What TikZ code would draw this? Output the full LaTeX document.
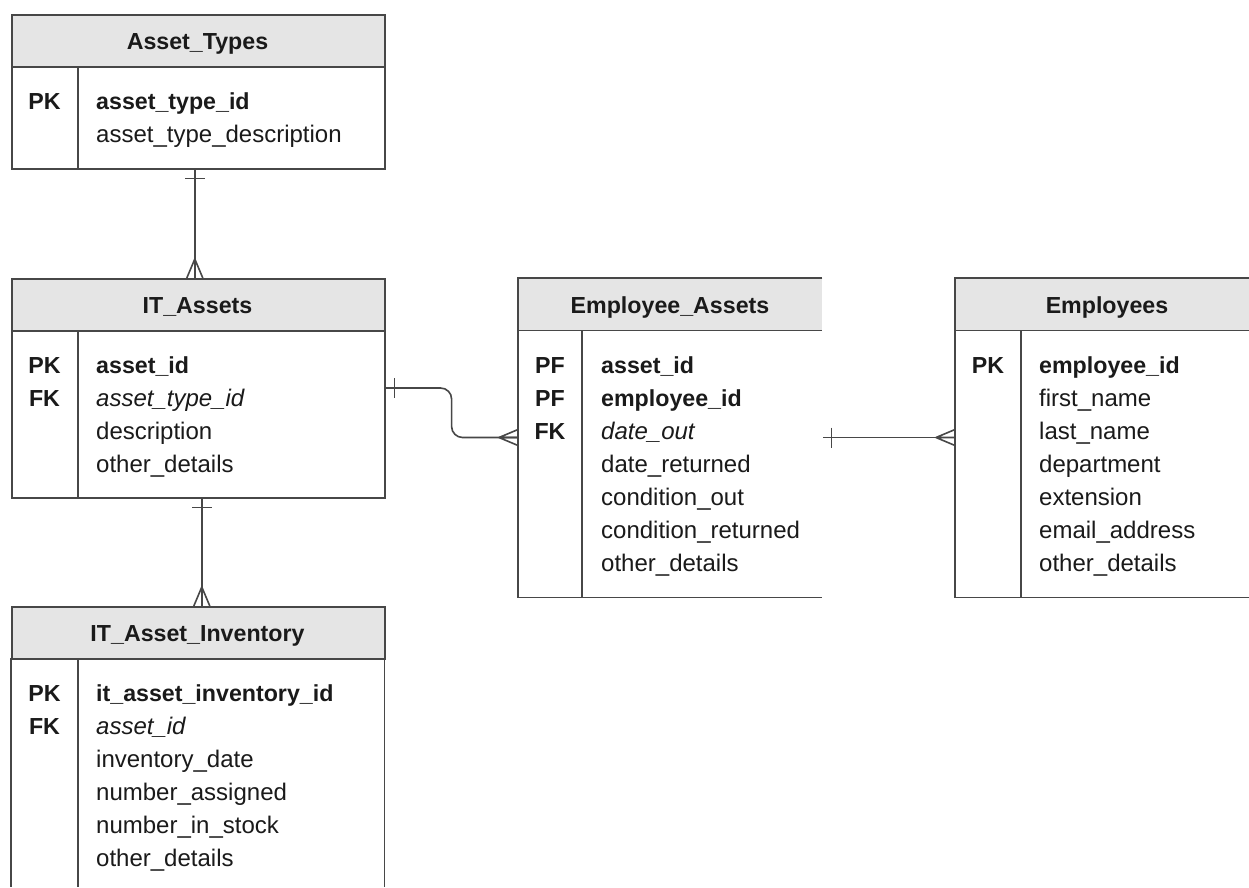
\documentclass[tikz,border=0pt]{standalone}
\usepackage{fontspec}
\setmainfont{Liberation Sans}
\usetikzlibrary{calc}
\definecolor{edge}{HTML}{474747}
\definecolor{headfill}{HTML}{E5E5E5}
\definecolor{ink}{HTML}{1A1A1A}
\newcommand\regfont{\fontsize{24}{28}\selectfont}
\newcommand\boldfont{\bfseries\fontsize{23.2}{28}\selectfont}

\begin{document}
\begin{tikzpicture}[x=1pt,y=-1pt,
  frame/.style={draw=edge,line width=1.6pt},
  hdr/.style={fill=headfill,inner sep=0pt,minimum height=52pt,anchor=north west},
  bodybox/.style={inner sep=0pt,anchor=north west},
  title/.style={anchor=base,inner sep=0pt,text=ink,font=\boldfont},
  key/.style={anchor=base,inner sep=0pt,text=ink,font=\boldfont},
  fld/.style={anchor=base west,inner sep=0pt,text=ink,font=\regfont},
  pkfld/.style={fld,font=\boldfont},
  fkfld/.style={fld,font=\itshape\regfont},
  conn/.style={draw=edge,line width=1.6pt},
  crowfoot/.pic={\draw[conn] (-19,0) -- (0,8) (-19,0) -- (0,-8) (-19,0) -- (0,0);},
  onebar/.pic={\draw[conn] (9,-10) -- (9,10);}
]
\useasboundingbox (0,0) rectangle (1249,887);
\fill[white] (0,0) rectangle (1249,887);

% ---------- Asset_Types ----------
\node[hdr,frame,minimum width=373pt] (atH) at (11,14) {};
\node[bodybox,frame,minimum width=373pt,minimum height=102pt] (atB) at (11,66) {};
\draw[frame] ([xshift=67pt]atB.north west) -- ([xshift=67pt]atB.south west);
\node[title] (atT) at (197.5,49.5) {Asset\_Types};
\node[key] (atK1) at (44.5,109.5) {PK};
\node[pkfld] (atF1) at (96,109.5) {asset\_type\_id};
\node[fld] (atF2) at (96,142.5) {asset\_type\_description};

% ---------- IT_Assets ----------
\node[hdr,frame,minimum width=373pt] (itH) at (11,278) {};
\node[bodybox,frame,minimum width=373pt,minimum height=167pt] (itB) at (11,330) {};
\draw[frame] ([xshift=67pt]itB.north west) -- ([xshift=67pt]itB.south west);
\node[title] (itT) at (197.5,313.5) {IT\_Assets};
\node[key] (itK1) at (44.5,373.5) {PK};
\node[key] (itK2) at (44.5,406.5) {FK};
\node[pkfld] (itF1) at (96,373.5) {asset\_id};
\node[fkfld] (itF2) at (96,406.5) {asset\_type\_id};
\node[fld] (itF3) at (96,439.5) {description};
\node[fld] (itF4) at (96,472.5) {other\_details};

% ---------- IT_Asset_Inventory (runs past the lower edge) ----------
\node[hdr,frame,minimum width=373pt] (invH) at (11,606) {};
\node[bodybox,minimum width=373pt,minimum height=229pt] (invB) at (11,658) {};
\draw[frame] (invB.north west) -- (invB.south west)
             (invB.north east) -- (invB.south east)
             ([xshift=67pt]invB.north west) -- ([xshift=67pt]invB.south west);
\node[title] (invT) at (197.5,641.5) {IT\_Asset\_Inventory};
\node[key] (invK1) at (44.5,701.5) {PK};
\node[key] (invK2) at (44.5,734.5) {FK};
\node[pkfld] (invF1) at (96,701.5) {it\_asset\_inventory\_id};
\node[fkfld] (invF2) at (96,734.5) {asset\_id};
\node[fld] (invF3) at (96,767.5) {inventory\_date};
\node[fld] (invF4) at (96,800.5) {number\_assigned};
\node[fld] (invF5) at (96,833.5) {number\_in\_stock};
\node[fld] (invF6) at (96,866.5) {other\_details};

% ---------- Employee_Assets (open on the right) ----------
\node[hdr,minimum width=304pt] (eaH) at (518,278) {};
\node[bodybox,minimum width=304pt,minimum height=267pt] (eaB) at (518,330) {};
\draw[frame] (eaH.north east) -- (eaH.north west) -- (eaB.south west) -- (eaB.south east)
             (eaH.south west) -- (eaH.south east)
             ([xshift=64pt]eaB.north west) -- ([xshift=64pt]eaB.south west);
\node[title] (eaT) at (670,313.5) {Employee\_Assets};
\node[key] (eaK1) at (550,373.5) {PF};
\node[key] (eaK2) at (550,406.5) {PF};
\node[key] (eaK3) at (550,439.5) {FK};
\node[pkfld] (eaF1) at (601,373.5) {asset\_id};
\node[pkfld] (eaF2) at (601,406.5) {employee\_id};
\node[fkfld] (eaF3) at (601,439.5) {date\_out};
\node[fld] (eaF4) at (601,472.5) {date\_returned};
\node[fld] (eaF5) at (601,505.5) {condition\_out};
\node[fld] (eaF6) at (601,538.5) {condition\_returned};
\node[fld] (eaF7) at (601,571.5) {other\_details};

% ---------- Employees (runs past the right edge) ----------
\node[hdr,minimum width=294pt] (emH) at (955,278) {};
\node[bodybox,minimum width=294pt,minimum height=267pt] (emB) at (955,330) {};
\draw[frame] (emH.north east) -- (emH.north west) -- (emB.south west) -- (emB.south east)
             (emH.south west) -- (emH.south east)
             ([xshift=66pt]emB.north west) -- ([xshift=66pt]emB.south west);
\node[title] (emT) at (1107,313.5) {Employees};
\node[key] (emK1) at (988,373.5) {PK};
\node[pkfld] (emF1) at (1039,373.5) {employee\_id};
\node[fld] (emF2) at (1039,406.5) {first\_name};
\node[fld] (emF3) at (1039,439.5) {last\_name};
\node[fld] (emF4) at (1039,472.5) {department};
\node[fld] (emF5) at (1039,505.5) {extension};
\node[fld] (emF6) at (1039,538.5) {email\_address};
\node[fld] (emF7) at (1039,571.5) {other\_details};

% ---------- Relationships ----------
% Asset_Types 1 -- * IT_Assets
\coordinate (c1s) at ([xshift=-3.5pt]atB.south);
\coordinate (c1e) at ([xshift=-3.5pt]itH.north);
\draw[conn] (c1s) -- (c1e);
\pic[rotate=-90] at (c1s) {onebar};
\pic[rotate=-90] at (c1e) {crowfoot};

% IT_Assets 1 -- * IT_Asset_Inventory
\coordinate (c2s) at ([xshift=3.5pt]itB.south);
\coordinate (c2e) at ([xshift=3.5pt]invH.north);
\draw[conn] (c2s) -- (c2e);
\pic[rotate=-90] at (c2s) {onebar};
\pic[rotate=-90] at (c2e) {crowfoot};

% IT_Assets 1 -- * Employee_Assets
\coordinate (c3s) at ($(itB.north east)+(0,58)$);
\coordinate (c3e) at ($(eaB.north west)+(0,107.5)$);
\draw[conn,rounded corners=11pt] (c3s) -- ++(66,0) |- (c3e);
\pic at (c3s) {onebar};
\pic at (c3e) {crowfoot};

% Employee_Assets -- * Employees
\coordinate (c4s) at ($(eaB.north east)+(0,107.5)$);
\coordinate (c4e) at ($(emB.north west)+(0,107.5)$);
\draw[conn] ([xshift=1pt]c4s) -- (c4e);
\pic at (c4s) {onebar};
\pic at (c4e) {crowfoot};
\end{tikzpicture}
\end{document}
